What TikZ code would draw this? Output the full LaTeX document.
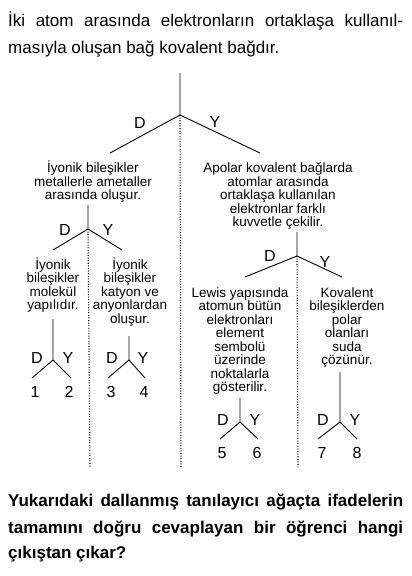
\documentclass[tikz,border=0pt]{standalone}
\usepackage{fontspec}
\setmainfont{Liberation Sans}
\newcommand{\fl}{\vphantom{İ}}
\lineskiplimit=-20pt
\begin{document}
\begin{tikzpicture}[x=1pt,y=-1pt,
  ln/.style={line width=0.9pt},
  dotln/.style={line width=1.1pt, dash pattern=on 1pt off 1.6pt},
  tx/.style={font=\fontsize{13.5}{13.5}\selectfont, align=center, inner sep=0pt, anchor=north},
  lbl/.style={font=\fontsize{16}{16}\selectfont, inner sep=0pt},
  head/.style={font=\fontsize{17}{17}\selectfont, inner sep=0pt, anchor=base west},
  quest/.style={font=\bfseries\fontsize{17}{17}\selectfont, inner sep=0pt, anchor=base west}]
\useasboundingbox (0,0) rectangle (412,576);
% heading
\node[head] (h1) at (8,26) {\makebox[395pt][s]{İki atom arasında elektronların ortaklaşa kullanıl-}};
\node[head] (h2) at (8,53) {masıyla oluşan bağ kovalent bağdır.};
% main tree
\coordinate (a0) at (180,73);
\coordinate (a) at (180,115);
\coordinate (ad) at (110,153);
\coordinate (ay) at (260,153);
\coordinate (aend) at (181,468);
\draw[ln] (a0) -- (a) (a) -- (ad) (a) -- (ay);
\draw[dotln] (a) -- (aend);
\node[lbl] (aD) at (140,123) {D};
\node[lbl] (aY) at (215,122) {Y};
% level 1 texts
\node[tx] (L1) at (93,161) {\fl İyonik bileşikler\\metallerle ametaller\\arasında oluşur.};
\node[tx] (R1) at (278,161) {\fl Apolar kovalent bağlarda\\atomlar arasında\\ortaklaşa kullanılan\\elektronlar farklı\\kuvvetle çekilir.};
% left subtree
\coordinate (b0) at (88,205);
\coordinate (b) at (88,229);
\coordinate (bd) at (53,250);
\coordinate (by) at (122,250);
\coordinate (bend) at (90,468);
\draw[ln] (b0) -- (b) (b) -- (bd) (b) -- (by);
\draw[dotln] (b) -- (bend);
\node[lbl] (bD) at (65,230) {D};
\node[lbl] (bY) at (108,230) {Y};
\node[tx] (L2a) at (53,257.5) {\fl İyonik\\bileşikler\\molekül\\yapılıdır.};
\node[tx] (L2b) at (130,257.5) {\fl İyonik\\bileşikler\\katyon ve\\anyonlardan\\oluşur.};
% right subtree
\coordinate (c0) at (297,232);
\coordinate (c) at (297,256);
\coordinate (cd) at (245,277);
\coordinate (cy) at (342,277);
\coordinate (cend) at (298,467);
\draw[ln] (c0) -- (c) (c) -- (cd) (c) -- (cy);
\draw[dotln] (c) -- (cend);
\node[lbl] (cD) at (270,256) {D};
\node[lbl] (cY) at (325,262) {Y};
\node[tx] (R2a) at (240,285.5) {\fl Lewis yapısında\\atomun bütün\\elektronları\\element\\sembolü\\üzerinde\\noktalarla\\gösterilir.};
\node[tx] (R2b) at (347,285.5) {\fl Kovalent\\bileşiklerden\\polar\\olanları\\suda\\çözünür.};
% leaf trees
% 1-2
\coordinate (p0) at (53,319);
\coordinate (p) at (53,360);
\coordinate (pd) at (32,378);
\coordinate (py) at (71,378);
\draw[ln] (p0) -- (p) (p) -- (pd) (p) -- (py);
\node[lbl] (pD) at (37,358) {D};
\node[lbl] (pY) at (68,358) {Y};
\node[lbl] (n1) at (35,392) {1};
\node[lbl] (n2) at (69,392) {2};
% 3-4
\coordinate (q0) at (129,336);
\coordinate (q) at (129,360);
\coordinate (qd) at (108,378);
\coordinate (qy) at (145,378);
\draw[ln] (q0) -- (q) (q) -- (qd) (q) -- (qy);
\node[lbl] (qD) at (112,358) {D};
\node[lbl] (qY) at (143,358) {Y};
\node[lbl] (n3) at (111,392) {3};
\node[lbl] (n4) at (144,392) {4};
% 5-6
\coordinate (r0) at (240,398);
\coordinate (r) at (240,422);
\coordinate (rd) at (220,439);
\coordinate (ry) at (258,439);
\draw[ln] (r0) -- (r) (r) -- (rd) (r) -- (ry);
\node[lbl] (rD) at (223,420) {D};
\node[lbl] (rY) at (255,420) {Y};
\node[lbl] (n5) at (222,453) {5};
\node[lbl] (n6) at (257,453) {6};
% 7-8
\coordinate (s0) at (340,372);
\coordinate (s) at (340,422);
\coordinate (sd) at (318,439);
\coordinate (sy) at (357,439);
\draw[ln] (s0) -- (s) (s) -- (sd) (s) -- (sy);
\node[lbl] (sD) at (323,420) {D};
\node[lbl] (sY) at (355,420) {Y};
\node[lbl] (n7) at (322,453) {7};
\node[lbl] (n8) at (357,453) {8};
% question
\node[quest] (k1) at (8,506) {\makebox[395pt][s]{Yukarıdaki dallanmış tanılayıcı ağaçta ifadelerin}};
\node[quest] (k2) at (8,533) {\makebox[395pt][s]{tamamını doğru cevaplayan bir öğrenci hangi}};
\node[quest] (k3) at (8,558) {çıkıştan çıkar?};
\end{tikzpicture}
\end{document}
